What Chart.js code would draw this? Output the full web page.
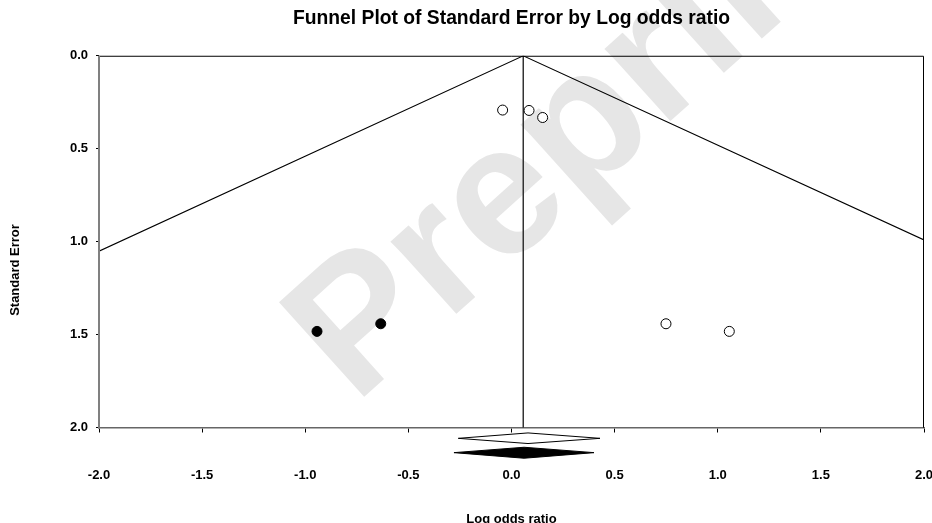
<!DOCTYPE html>
<html>
<head>
<meta charset="utf-8">
<script src="https://cdn.jsdelivr.net/npm/chart.js@4.4.1/dist/chart.umd.min.js"></script>
<style>
html, body { margin: 0; padding: 0; background: #fff; }
</style>
</head>
<body>
<canvas id="funnel" width="932" height="523"></canvas>
<script>
// studies (observed) and trim-and-fill imputed studies
var obsLogOR = [-0.043, 0.085, 0.151, 0.749, 1.056];
var obsSE    = [0.292, 0.294, 0.332, 1.441, 1.482];
var impLogOR = [-0.943, -0.634];
var impSE    = [1.482, 1.441];

// pseudo 95% limits and combined estimate line
var funnelX  = [-2.0, 0.057, 2.0];
var funnelSE = [1.051, 0.0, 0.990];
var estX     = [0.057, 0.057];
var estSE    = [0.0, 2.0];

// summary diamonds (observed, adjusted), drawn under the axis
var obsDiamondX = [-0.258, 0.080, 0.429, 0.080, -0.258];
var obsDiamondY = [2.057, 2.028, 2.057, 2.085, 2.057];
var adjDiamondX = [-0.279, 0.061, 0.400, 0.061, -0.279];
var adjDiamondY = [2.134, 2.105, 2.134, 2.164, 2.134];

var xTicks = [-2.0, -1.5, -1.0, -0.5, 0.0, 0.5, 1.0, 1.5, 2.0];
var yTicks = [0.0, 0.5, 1.0, 1.5, 2.0];
var seMax = 2.0;

function pts(xs, ys) {
  return xs.map(function (x, i) { return {x: x, y: ys[i]}; });
}

var FONT = "'Liberation Sans', Arial, sans-serif";

var watermark = {
  id: "watermark",
  beforeDraw: function (chart) {
    var ctx = chart.ctx;
    ctx.save();
    ctx.translate(355, 405);
    ctx.rotate(-42 * Math.PI / 180);
    ctx.fillStyle = "#e6e6e6";
    ctx.font = "bold 185px " + FONT;
    ctx.textBaseline = "alphabetic";
    ctx.fillText("Preprint", 0, 0);
    ctx.restore();
  }
};

// plot frame (left grey axis, black top and right) and the y title
var frame = {
  id: "frame",
  afterDatasetsDraw: function (chart) {
    var a = chart.chartArea, ctx = chart.ctx;
    var yb = chart.scales.y.getPixelForValue(seMax);
    ctx.save();
    ctx.strokeStyle = "#000";
    ctx.lineWidth = 1;
    ctx.beginPath();
    ctx.moveTo(a.left, a.top + 0.5);
    ctx.lineTo(a.right - 0.5, a.top + 0.5);
    ctx.lineTo(a.right - 0.5, yb);
    ctx.stroke();
    ctx.strokeStyle = "#808080";
    ctx.lineWidth = 2;
    ctx.beginPath();
    ctx.moveTo(a.left, a.top);
    ctx.lineTo(a.left, yb + 1);
    ctx.stroke();
    ctx.translate(15, 270);
    ctx.rotate(-Math.PI / 2);
    ctx.fillStyle = "#000";
    ctx.font = "bold 13px " + FONT;
    ctx.textAlign = "center";
    ctx.textBaseline = "middle";
    ctx.fillText("Standard Error", 0, 0);
    ctx.restore();
  }
};

new Chart("funnel", {
  type: "scatter",
  data: {
    datasets: [{
      data: pts(impLogOR, impSE),
      pointRadius: 5,
      pointBackgroundColor: "#000",
      pointBorderColor: "#000",
      pointBorderWidth: 1
    }, {
      data: pts(obsLogOR, obsSE),
      pointRadius: 5,
      pointBackgroundColor: "#fff",
      pointBorderColor: "#000",
      pointBorderWidth: 1
    }, {
      data: pts(funnelX, funnelSE),
      showLine: true,
      borderColor: "#000",
      borderWidth: 1.1,
      pointRadius: 0
    }, {
      data: pts(estX, estSE),
      showLine: true,
      borderColor: "#333",
      borderWidth: 1.5,
      pointRadius: 0
    }, {
      data: pts(obsDiamondX, obsDiamondY),
      showLine: true,
      fill: "shape",
      backgroundColor: "#fff",
      borderColor: "#000",
      borderWidth: 1,
      pointRadius: 0
    }, {
      data: pts(adjDiamondX, adjDiamondY),
      showLine: true,
      fill: "shape",
      backgroundColor: "#000",
      borderColor: "#000",
      borderWidth: 1,
      pointRadius: 0
    }]
  },
  options: {
    responsive: false,
    animation: false,
    layout: {padding: {left: 0, right: 8, top: 0, bottom: 0}},
    plugins: {
      legend: {display: false},
      tooltip: {enabled: false},
      title: {
        display: true,
        fullSize: false,
        text: "Funnel Plot of Standard Error by Log odds ratio",
        color: "#000",
        font: {family: FONT, size: 19.3, weight: "bold"},
        padding: {top: 7, bottom: 25.6}
      }
    },
    scales: {
      x: {
        type: "linear",
        position: {y: seMax},
        min: -2, max: 2,
        afterBuildTicks: function (s) { s.ticks = xTicks.map(function (v) { return {value: v}; }); },
        afterFit: function (s) { s.height = 95.5; s.paddingLeft = 0; s.paddingRight = 0; },
        ticks: {
          color: "#000",
          padding: 35.5,
          font: {family: FONT, size: 13, weight: "bold"},
          callback: function (v) { return v.toFixed(1); }
        },
        grid: {drawOnChartArea: false, drawTicks: true, tickLength: 4, color: "#000"},
        border: {display: true, color: "#666", width: 1.5},
        title: {
          display: true,
          text: "Log odds ratio",
          color: "#000",
          font: {family: FONT, size: 13, weight: "bold"},
          padding: {top: 0, bottom: -4}
        }
      },
      y: {
        type: "linear",
        reverse: true,
        min: 0, max: 2.48,
        afterBuildTicks: function (s) { s.ticks = yTicks.map(function (v) { return {value: v}; }); },
        afterFit: function (s) { s.width = 99; s.paddingTop = 0; s.paddingBottom = 0; },
        ticks: {
          color: "#000",
          padding: 8,
          font: {family: FONT, size: 13, weight: "bold"},
          callback: function (v) { return v.toFixed(1); }
        },
        grid: {drawOnChartArea: false, drawTicks: true, tickLength: 3, color: "#000"},
        border: {display: false},
        title: {display: false}
      }
    }
  },
  plugins: [watermark, frame]
});
</script>
</body>
</html>
